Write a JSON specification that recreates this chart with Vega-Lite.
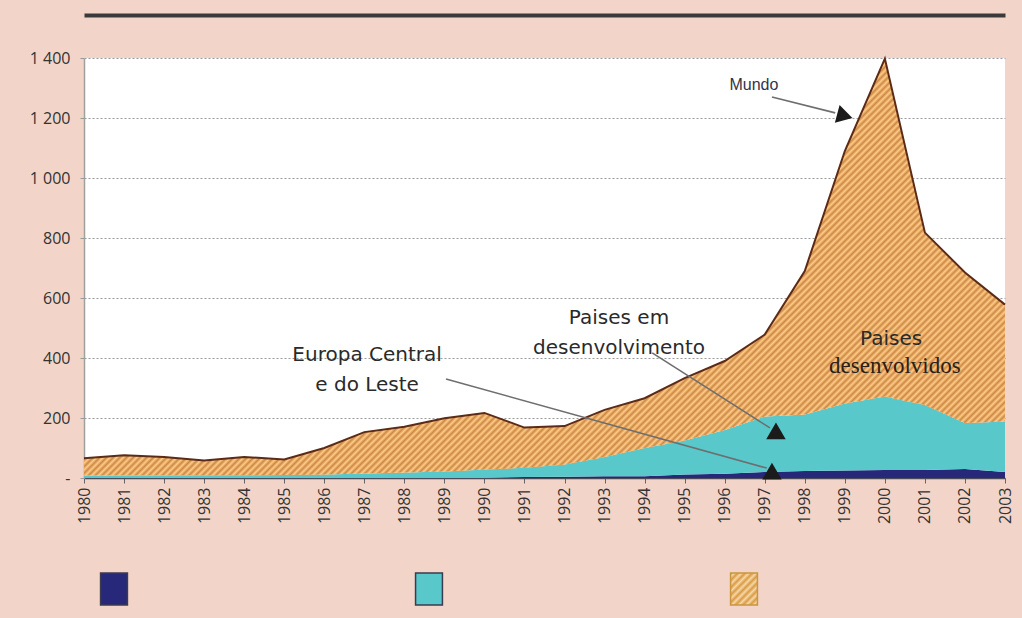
{
"$schema": "https://vega.github.io/schema/vega-lite/v6.json",
"width": 921, "height": 420,
"autosize": {"type": "none"},
"padding": {"left": 84, "top": 58, "right": 17, "bottom": 140},
"background": "#f2d5c8",
"config": {"view": {"fill": "white", "stroke": null}, "font": "Open Sans"},
"datasets": {
"ied": [
{"ano":1980,"regiao":"Europa Central e do Leste","ordem":1,"valor":0.5},{"ano":1980,"regiao":"Paises em desenvolvimento","ordem":2,"valor":7.5},{"ano":1980,"regiao":"Paises desenvolvidos","ordem":3,"valor":58},
{"ano":1981,"regiao":"Europa Central e do Leste","ordem":1,"valor":0.5},{"ano":1981,"regiao":"Paises em desenvolvimento","ordem":2,"valor":8.5},{"ano":1981,"regiao":"Paises desenvolvidos","ordem":3,"valor":67},
{"ano":1982,"regiao":"Europa Central e do Leste","ordem":1,"valor":0.5},{"ano":1982,"regiao":"Paises em desenvolvimento","ordem":2,"valor":8.5},{"ano":1982,"regiao":"Paises desenvolvidos","ordem":3,"valor":61},
{"ano":1983,"regiao":"Europa Central e do Leste","ordem":1,"valor":0.5},{"ano":1983,"regiao":"Paises em desenvolvimento","ordem":2,"valor":8.5},{"ano":1983,"regiao":"Paises desenvolvidos","ordem":3,"valor":49},
{"ano":1984,"regiao":"Europa Central e do Leste","ordem":1,"valor":0.5},{"ano":1984,"regiao":"Paises em desenvolvimento","ordem":2,"valor":8.5},{"ano":1984,"regiao":"Paises desenvolvidos","ordem":3,"valor":61},
{"ano":1985,"regiao":"Europa Central e do Leste","ordem":1,"valor":0.5},{"ano":1985,"regiao":"Paises em desenvolvimento","ordem":2,"valor":9.5},{"ano":1985,"regiao":"Paises desenvolvidos","ordem":3,"valor":52},
{"ano":1986,"regiao":"Europa Central e do Leste","ordem":1,"valor":0.5},{"ano":1986,"regiao":"Paises em desenvolvimento","ordem":2,"valor":11.5},{"ano":1986,"regiao":"Paises desenvolvidos","ordem":3,"valor":88},
{"ano":1987,"regiao":"Europa Central e do Leste","ordem":1,"valor":0.5},{"ano":1987,"regiao":"Paises em desenvolvimento","ordem":2,"valor":14.5},{"ano":1987,"regiao":"Paises desenvolvidos","ordem":3,"valor":138},
{"ano":1988,"regiao":"Europa Central e do Leste","ordem":1,"valor":0.5},{"ano":1988,"regiao":"Paises em desenvolvimento","ordem":2,"valor":17.5},{"ano":1988,"regiao":"Paises desenvolvidos","ordem":3,"valor":153},
{"ano":1989,"regiao":"Europa Central e do Leste","ordem":1,"valor":0.5},{"ano":1989,"regiao":"Paises em desenvolvimento","ordem":2,"valor":21.5},{"ano":1989,"regiao":"Paises desenvolvidos","ordem":3,"valor":177},
{"ano":1990,"regiao":"Europa Central e do Leste","ordem":1,"valor":1},{"ano":1990,"regiao":"Paises em desenvolvimento","ordem":2,"valor":27},{"ano":1990,"regiao":"Paises desenvolvidos","ordem":3,"valor":189},
{"ano":1991,"regiao":"Europa Central e do Leste","ordem":1,"valor":3},{"ano":1991,"regiao":"Paises em desenvolvimento","ordem":2,"valor":31},{"ano":1991,"regiao":"Paises desenvolvidos","ordem":3,"valor":134},
{"ano":1992,"regiao":"Europa Central e do Leste","ordem":1,"valor":4},{"ano":1992,"regiao":"Paises em desenvolvimento","ordem":2,"valor":41},{"ano":1992,"regiao":"Paises desenvolvidos","ordem":3,"valor":128},
{"ano":1993,"regiao":"Europa Central e do Leste","ordem":1,"valor":6},{"ano":1993,"regiao":"Paises em desenvolvimento","ordem":2,"valor":64},{"ano":1993,"regiao":"Paises desenvolvidos","ordem":3,"valor":157},
{"ano":1994,"regiao":"Europa Central e do Leste","ordem":1,"valor":6},{"ano":1994,"regiao":"Paises em desenvolvimento","ordem":2,"valor":94},{"ano":1994,"regiao":"Paises desenvolvidos","ordem":3,"valor":166},
{"ano":1995,"regiao":"Europa Central e do Leste","ordem":1,"valor":12},{"ano":1995,"regiao":"Paises em desenvolvimento","ordem":2,"valor":113},{"ano":1995,"regiao":"Paises desenvolvidos","ordem":3,"valor":208},
{"ano":1996,"regiao":"Europa Central e do Leste","ordem":1,"valor":14},{"ano":1996,"regiao":"Paises em desenvolvimento","ordem":2,"valor":146},{"ano":1996,"regiao":"Paises desenvolvidos","ordem":3,"valor":230},
{"ano":1997,"regiao":"Europa Central e do Leste","ordem":1,"valor":20},{"ano":1997,"regiao":"Paises em desenvolvimento","ordem":2,"valor":185},{"ano":1997,"regiao":"Paises desenvolvidos","ordem":3,"valor":273},
{"ano":1998,"regiao":"Europa Central e do Leste","ordem":1,"valor":23},{"ano":1998,"regiao":"Paises em desenvolvimento","ordem":2,"valor":189},{"ano":1998,"regiao":"Paises desenvolvidos","ordem":3,"valor":478},
{"ano":1999,"regiao":"Europa Central e do Leste","ordem":1,"valor":25},{"ano":1999,"regiao":"Paises em desenvolvimento","ordem":2,"valor":223},{"ano":1999,"regiao":"Paises desenvolvidos","ordem":3,"valor":842},
{"ano":2000,"regiao":"Europa Central e do Leste","ordem":1,"valor":27},{"ano":2000,"regiao":"Paises em desenvolvimento","ordem":2,"valor":245},{"ano":2000,"regiao":"Paises desenvolvidos","ordem":3,"valor":1126},
{"ano":2001,"regiao":"Europa Central e do Leste","ordem":1,"valor":27},{"ano":2001,"regiao":"Paises em desenvolvimento","ordem":2,"valor":216},{"ano":2001,"regiao":"Paises desenvolvidos","ordem":3,"valor":575},
{"ano":2002,"regiao":"Europa Central e do Leste","ordem":1,"valor":30},{"ano":2002,"regiao":"Paises em desenvolvimento","ordem":2,"valor":153},{"ano":2002,"regiao":"Paises desenvolvidos","ordem":3,"valor":502},
{"ano":2003,"regiao":"Europa Central e do Leste","ordem":1,"valor":20},{"ano":2003,"regiao":"Paises em desenvolvimento","ordem":2,"valor":168},{"ano":2003,"regiao":"Paises desenvolvidos","ordem":3,"valor":390}
],
"setas": [
{"xa":1997.18,"ya":1270,"xb":1998.76,"yb":1217},
{"xa":1989.04,"ya":330,"xb":1997.05,"yb":33},
{"xa":1994.19,"ya":417,"xb":1997.13,"yb":167}
],
"pontas": [
{"ano":1997.18,"valor":23},
{"ano":1997.28,"valor":157}
],
"pontaMundo": [
{"ano":1999.0,"valor":1207}
],
"rotuloMundo": [
{"ano":1996.73,"valor":1310,"texto":"Mundo"}
],
"rotulos": [
{"ano":1987.07,"valor":410,"texto":"Europa Central\ne do Leste"},
{"ano":1993.36,"valor":533,"texto":"Paises em\ndesenvolvimento"},
{"ano":2000.155,"valor":463,"texto":"Paises"}
],
"rotuloSerif": [
{"ano":2000.25,"valor":373,"texto":"desenvolvidos"}
]
},
"resolve": {"axis": {"x": "independent", "y": "independent"}},
"layer": [
{
"data": {"name": "ied"},
"transform": [{"stack": "valor", "groupby": ["ano"], "sort": [{"field": "ordem", "order": "ascending"}], "as": ["v0", "v1"]}],
"mark": {"type": "area", "opacity": 1},
"encoding": {
"x": {"field": "ano", "type": "quantitative", "scale": {"domain": [1980, 2003], "nice": false, "zero": false},
"axis": {"values": [1980,1981,1982,1983,1984,1985,1986,1987,1988,1989,1990,1991,1992,1993,1994,1995,1996,1997,1998,1999,2000,2001,2002,2003], "format": "d", "labelAngle": 270, "labelAlign": "right", "labelBaseline": "middle", "labelFontSize": 16, "labelColor": "#333333", "labelPadding": 4, "tickSize": 5, "tickColor": "#666666", "domainColor": "#4a4a5a", "domainWidth": 1.5, "grid": false, "title": null, "labelOverlap": false}},
"y": {"field": "v1", "type": "quantitative", "stack": null, "scale": {"domain": [0, 1400], "nice": false},
"axis": {"values": [0,200,400,600,800,1000,1200,1400], "labelExpr": "datum.value == 0 ? '-' : replace(format(datum.value, ','), ',', ' ')", "labelFontSize": 16, "labelColor": "#333333", "labelPadding": 10, "tickSize": 4, "tickColor": "#999999", "domainColor": "#a0a0a0", "domainWidth": 1.5, "grid": true, "gridColor": "#9a9a9a", "gridDash": [2, 2], "gridWidth": 1, "title": null}},
"y2": {"field": "v0"},
"color": {"field": "regiao", "type": "nominal",
"scale": {"domain": ["Europa Central e do Leste", "Paises em desenvolvimento", "Paises desenvolvidos"], "range": ["#27287a", "#58c8cb", {"expr": "{gradient: 'linear', x1: 0, y1: 0, x2: 0.909, y2: 1.077, stops: [{offset: 0, color: '#d99a44'}, {offset: 0.0625, color: '#f7d8a8'}, {offset: 0.125, color: '#d99a44'}, {offset: 0.1875, color: '#f7d8a8'}, {offset: 0.25, color: '#d99a44'}, {offset: 0.3125, color: '#f7d8a8'}, {offset: 0.375, color: '#d99a44'}, {offset: 0.4375, color: '#f7d8a8'}, {offset: 0.5, color: '#d99a44'}, {offset: 0.5625, color: '#f7d8a8'}, {offset: 0.625, color: '#d99a44'}, {offset: 0.6875, color: '#f7d8a8'}, {offset: 0.75, color: '#d99a44'}, {offset: 0.8125, color: '#f7d8a8'}, {offset: 0.875, color: '#d99a44'}, {offset: 0.9375, color: '#f7d8a8'}, {offset: 1, color: '#d99a44'}]}"}]},
"legend": {"orient": "none", "legendX": 13, "legendY": 514, "direction": "horizontal", "title": null, "symbolType": "M-0.84,-1H0.84V1H-0.84Z", "symbolSize": 1024, "symbolStrokeWidth": 1.5, "symbolOpacity": 1, "labelExpr": "''", "labelOffset": 0, "columnPadding": 281, "padding": 0,
"encode": {"symbols": {"update": {
"stroke": {"signal": "datum.value === 'Paises desenvolvidos' ? '#c9963e' : '#3b3b4f'"},
"strokeWidth": {"value": 1.5},
"opacity": {"value": 1}
}}}}
}
}
},
{
"data": {"name": "ied"},
"transform": [{"stack": "valor", "groupby": ["ano"], "sort": [{"field": "ordem", "order": "ascending"}], "as": ["v0", "v1"]}, {"filter": "datum.regiao === 'Paises desenvolvidos'"}],
"mark": {"type": "area", "opacity": 1, "fill": {"gradient": "linear", "x1": 0, "y1": 0, "x2": 1.2056, "y2": 0.5459, "stops": [
{"offset":0.00,"color":"#c84"},{"offset":0.0025,"color":"#fc8"},{"offset":0.005,"color":"#c84"},{"offset":0.0075,"color":"#fc8"},
{"offset":0.01,"color":"#c84"},{"offset":0.0125,"color":"#fc8"},{"offset":0.015,"color":"#c84"},{"offset":0.0175,"color":"#fc8"},
{"offset":0.02,"color":"#c84"},{"offset":0.0225,"color":"#fc8"},{"offset":0.025,"color":"#c84"},{"offset":0.0275,"color":"#fc8"},
{"offset":0.03,"color":"#c84"},{"offset":0.0325,"color":"#fc8"},{"offset":0.035,"color":"#c84"},{"offset":0.0375,"color":"#fc8"},
{"offset":0.04,"color":"#c84"},{"offset":0.0425,"color":"#fc8"},{"offset":0.045,"color":"#c84"},{"offset":0.0475,"color":"#fc8"},
{"offset":0.05,"color":"#c84"},{"offset":0.0525,"color":"#fc8"},{"offset":0.055,"color":"#c84"},{"offset":0.0575,"color":"#fc8"},
{"offset":0.06,"color":"#c84"},{"offset":0.0625,"color":"#fc8"},{"offset":0.065,"color":"#c84"},{"offset":0.0675,"color":"#fc8"},
{"offset":0.07,"color":"#c84"},{"offset":0.0725,"color":"#fc8"},{"offset":0.075,"color":"#c84"},{"offset":0.0775,"color":"#fc8"},
{"offset":0.08,"color":"#c84"},{"offset":0.0825,"color":"#fc8"},{"offset":0.085,"color":"#c84"},{"offset":0.0875,"color":"#fc8"},
{"offset":0.09,"color":"#c84"},{"offset":0.0925,"color":"#fc8"},{"offset":0.095,"color":"#c84"},{"offset":0.0975,"color":"#fc8"},
{"offset":0.10,"color":"#c84"},{"offset":0.1025,"color":"#fc8"},{"offset":0.105,"color":"#c84"},{"offset":0.1075,"color":"#fc8"},
{"offset":0.11,"color":"#c84"},{"offset":0.1125,"color":"#fc8"},{"offset":0.115,"color":"#c84"},{"offset":0.1175,"color":"#fc8"},
{"offset":0.12,"color":"#c84"},{"offset":0.1225,"color":"#fc8"},{"offset":0.125,"color":"#c84"},{"offset":0.1275,"color":"#fc8"},
{"offset":0.13,"color":"#c84"},{"offset":0.1325,"color":"#fc8"},{"offset":0.135,"color":"#c84"},{"offset":0.1375,"color":"#fc8"},
{"offset":0.14,"color":"#c84"},{"offset":0.1425,"color":"#fc8"},{"offset":0.145,"color":"#c84"},{"offset":0.1475,"color":"#fc8"},
{"offset":0.15,"color":"#c84"},{"offset":0.1525,"color":"#fc8"},{"offset":0.155,"color":"#c84"},{"offset":0.1575,"color":"#fc8"},
{"offset":0.16,"color":"#c84"},{"offset":0.1625,"color":"#fc8"},{"offset":0.165,"color":"#c84"},{"offset":0.1675,"color":"#fc8"},
{"offset":0.17,"color":"#c84"},{"offset":0.1725,"color":"#fc8"},{"offset":0.175,"color":"#c84"},{"offset":0.1775,"color":"#fc8"},
{"offset":0.18,"color":"#c84"},{"offset":0.1825,"color":"#fc8"},{"offset":0.185,"color":"#c84"},{"offset":0.1875,"color":"#fc8"},
{"offset":0.19,"color":"#c84"},{"offset":0.1925,"color":"#fc8"},{"offset":0.195,"color":"#c84"},{"offset":0.1975,"color":"#fc8"},
{"offset":0.20,"color":"#c84"},{"offset":0.2025,"color":"#fc8"},{"offset":0.205,"color":"#c84"},{"offset":0.2075,"color":"#fc8"},
{"offset":0.21,"color":"#c84"},{"offset":0.2125,"color":"#fc8"},{"offset":0.215,"color":"#c84"},{"offset":0.2175,"color":"#fc8"},
{"offset":0.22,"color":"#c84"},{"offset":0.2225,"color":"#fc8"},{"offset":0.225,"color":"#c84"},{"offset":0.2275,"color":"#fc8"},
{"offset":0.23,"color":"#c84"},{"offset":0.2325,"color":"#fc8"},{"offset":0.235,"color":"#c84"},{"offset":0.2375,"color":"#fc8"},
{"offset":0.24,"color":"#c84"},{"offset":0.2425,"color":"#fc8"},{"offset":0.245,"color":"#c84"},{"offset":0.2475,"color":"#fc8"},
{"offset":0.25,"color":"#c84"},{"offset":0.2525,"color":"#fc8"},{"offset":0.255,"color":"#c84"},{"offset":0.2575,"color":"#fc8"},
{"offset":0.26,"color":"#c84"},{"offset":0.2625,"color":"#fc8"},{"offset":0.265,"color":"#c84"},{"offset":0.2675,"color":"#fc8"},
{"offset":0.27,"color":"#c84"},{"offset":0.2725,"color":"#fc8"},{"offset":0.275,"color":"#c84"},{"offset":0.2775,"color":"#fc8"},
{"offset":0.28,"color":"#c84"},{"offset":0.2825,"color":"#fc8"},{"offset":0.285,"color":"#c84"},{"offset":0.2875,"color":"#fc8"},
{"offset":0.29,"color":"#c84"},{"offset":0.2925,"color":"#fc8"},{"offset":0.295,"color":"#c84"},{"offset":0.2975,"color":"#fc8"},
{"offset":0.30,"color":"#c84"},{"offset":0.3025,"color":"#fc8"},{"offset":0.305,"color":"#c84"},{"offset":0.3075,"color":"#fc8"},
{"offset":0.31,"color":"#c84"},{"offset":0.3125,"color":"#fc8"},{"offset":0.315,"color":"#c84"},{"offset":0.3175,"color":"#fc8"},
{"offset":0.32,"color":"#c84"},{"offset":0.3225,"color":"#fc8"},{"offset":0.325,"color":"#c84"},{"offset":0.3275,"color":"#fc8"},
{"offset":0.33,"color":"#c84"},{"offset":0.3325,"color":"#fc8"},{"offset":0.335,"color":"#c84"},{"offset":0.3375,"color":"#fc8"},
{"offset":0.34,"color":"#c84"},{"offset":0.3425,"color":"#fc8"},{"offset":0.345,"color":"#c84"},{"offset":0.3475,"color":"#fc8"},
{"offset":0.35,"color":"#c84"},{"offset":0.3525,"color":"#fc8"},{"offset":0.355,"color":"#c84"},{"offset":0.3575,"color":"#fc8"},
{"offset":0.36,"color":"#c84"},{"offset":0.3625,"color":"#fc8"},{"offset":0.365,"color":"#c84"},{"offset":0.3675,"color":"#fc8"},
{"offset":0.37,"color":"#c84"},{"offset":0.3725,"color":"#fc8"},{"offset":0.375,"color":"#c84"},{"offset":0.3775,"color":"#fc8"},
{"offset":0.38,"color":"#c84"},{"offset":0.3825,"color":"#fc8"},{"offset":0.385,"color":"#c84"},{"offset":0.3875,"color":"#fc8"},
{"offset":0.39,"color":"#c84"},{"offset":0.3925,"color":"#fc8"},{"offset":0.395,"color":"#c84"},{"offset":0.3975,"color":"#fc8"},
{"offset":0.40,"color":"#c84"},{"offset":0.4025,"color":"#fc8"},{"offset":0.405,"color":"#c84"},{"offset":0.4075,"color":"#fc8"},
{"offset":0.41,"color":"#c84"},{"offset":0.4125,"color":"#fc8"},{"offset":0.415,"color":"#c84"},{"offset":0.4175,"color":"#fc8"},
{"offset":0.42,"color":"#c84"},{"offset":0.4225,"color":"#fc8"},{"offset":0.425,"color":"#c84"},{"offset":0.4275,"color":"#fc8"},
{"offset":0.43,"color":"#c84"},{"offset":0.4325,"color":"#fc8"},{"offset":0.435,"color":"#c84"},{"offset":0.4375,"color":"#fc8"},
{"offset":0.44,"color":"#c84"},{"offset":0.4425,"color":"#fc8"},{"offset":0.445,"color":"#c84"},{"offset":0.4475,"color":"#fc8"},
{"offset":0.45,"color":"#c84"},{"offset":0.4525,"color":"#fc8"},{"offset":0.455,"color":"#c84"},{"offset":0.4575,"color":"#fc8"},
{"offset":0.46,"color":"#c84"},{"offset":0.4625,"color":"#fc8"},{"offset":0.465,"color":"#c84"},{"offset":0.4675,"color":"#fc8"},
{"offset":0.47,"color":"#c84"},{"offset":0.4725,"color":"#fc8"},{"offset":0.475,"color":"#c84"},{"offset":0.4775,"color":"#fc8"},
{"offset":0.48,"color":"#c84"},{"offset":0.4825,"color":"#fc8"},{"offset":0.485,"color":"#c84"},{"offset":0.4875,"color":"#fc8"},
{"offset":0.49,"color":"#c84"},{"offset":0.4925,"color":"#fc8"},{"offset":0.495,"color":"#c84"},{"offset":0.4975,"color":"#fc8"},
{"offset":0.50,"color":"#c84"},{"offset":0.5025,"color":"#fc8"},{"offset":0.505,"color":"#c84"},{"offset":0.5075,"color":"#fc8"},
{"offset":0.51,"color":"#c84"},{"offset":0.5125,"color":"#fc8"},{"offset":0.515,"color":"#c84"},{"offset":0.5175,"color":"#fc8"},
{"offset":0.52,"color":"#c84"},{"offset":0.5225,"color":"#fc8"},{"offset":0.525,"color":"#c84"},{"offset":0.5275,"color":"#fc8"},
{"offset":0.53,"color":"#c84"},{"offset":0.5325,"color":"#fc8"},{"offset":0.535,"color":"#c84"},{"offset":0.5375,"color":"#fc8"},
{"offset":0.54,"color":"#c84"},{"offset":0.5425,"color":"#fc8"},{"offset":0.545,"color":"#c84"},{"offset":0.5475,"color":"#fc8"},
{"offset":0.55,"color":"#c84"},{"offset":0.5525,"color":"#fc8"},{"offset":0.555,"color":"#c84"},{"offset":0.5575,"color":"#fc8"},
{"offset":0.56,"color":"#c84"},{"offset":0.5625,"color":"#fc8"},{"offset":0.565,"color":"#c84"},{"offset":0.5675,"color":"#fc8"},
{"offset":0.57,"color":"#c84"},{"offset":0.5725,"color":"#fc8"},{"offset":0.575,"color":"#c84"},{"offset":0.5775,"color":"#fc8"},
{"offset":0.58,"color":"#c84"},{"offset":0.5825,"color":"#fc8"},{"offset":0.585,"color":"#c84"},{"offset":0.5875,"color":"#fc8"},
{"offset":0.59,"color":"#c84"},{"offset":0.5925,"color":"#fc8"},{"offset":0.595,"color":"#c84"},{"offset":0.5975,"color":"#fc8"},
{"offset":0.60,"color":"#c84"},{"offset":0.6025,"color":"#fc8"},{"offset":0.605,"color":"#c84"},{"offset":0.6075,"color":"#fc8"},
{"offset":0.61,"color":"#c84"},{"offset":0.6125,"color":"#fc8"},{"offset":0.615,"color":"#c84"},{"offset":0.6175,"color":"#fc8"},
{"offset":0.62,"color":"#c84"},{"offset":0.6225,"color":"#fc8"},{"offset":0.625,"color":"#c84"},{"offset":0.6275,"color":"#fc8"},
{"offset":0.63,"color":"#c84"},{"offset":0.6325,"color":"#fc8"},{"offset":0.635,"color":"#c84"},{"offset":0.6375,"color":"#fc8"},
{"offset":0.64,"color":"#c84"},{"offset":0.6425,"color":"#fc8"},{"offset":0.645,"color":"#c84"},{"offset":0.6475,"color":"#fc8"},
{"offset":0.65,"color":"#c84"},{"offset":0.6525,"color":"#fc8"},{"offset":0.655,"color":"#c84"},{"offset":0.6575,"color":"#fc8"},
{"offset":0.66,"color":"#c84"},{"offset":0.6625,"color":"#fc8"},{"offset":0.665,"color":"#c84"},{"offset":0.6675,"color":"#fc8"},
{"offset":0.67,"color":"#c84"},{"offset":0.6725,"color":"#fc8"},{"offset":0.675,"color":"#c84"},{"offset":0.6775,"color":"#fc8"},
{"offset":0.68,"color":"#c84"},{"offset":0.6825,"color":"#fc8"},{"offset":0.685,"color":"#c84"},{"offset":0.6875,"color":"#fc8"},
{"offset":0.69,"color":"#c84"},{"offset":0.6925,"color":"#fc8"},{"offset":0.695,"color":"#c84"},{"offset":0.6975,"color":"#fc8"},
{"offset":0.70,"color":"#c84"},{"offset":0.7025,"color":"#fc8"},{"offset":0.705,"color":"#c84"},{"offset":0.7075,"color":"#fc8"},
{"offset":0.71,"color":"#c84"},{"offset":0.7125,"color":"#fc8"},{"offset":0.715,"color":"#c84"},{"offset":0.7175,"color":"#fc8"},
{"offset":0.72,"color":"#c84"},{"offset":0.7225,"color":"#fc8"},{"offset":0.725,"color":"#c84"},{"offset":0.7275,"color":"#fc8"},
{"offset":0.73,"color":"#c84"},{"offset":0.7325,"color":"#fc8"},{"offset":0.735,"color":"#c84"},{"offset":0.7375,"color":"#fc8"},
{"offset":0.74,"color":"#c84"},{"offset":0.7425,"color":"#fc8"},{"offset":0.745,"color":"#c84"},{"offset":0.7475,"color":"#fc8"},
{"offset":0.75,"color":"#c84"},{"offset":0.7525,"color":"#fc8"},{"offset":0.755,"color":"#c84"},{"offset":0.7575,"color":"#fc8"},
{"offset":0.76,"color":"#c84"},{"offset":0.7625,"color":"#fc8"},{"offset":0.765,"color":"#c84"},{"offset":0.7675,"color":"#fc8"},
{"offset":0.77,"color":"#c84"},{"offset":0.7725,"color":"#fc8"},{"offset":0.775,"color":"#c84"},{"offset":0.7775,"color":"#fc8"},
{"offset":0.78,"color":"#c84"},{"offset":0.7825,"color":"#fc8"},{"offset":0.785,"color":"#c84"},{"offset":0.7875,"color":"#fc8"},
{"offset":0.79,"color":"#c84"},{"offset":0.7925,"color":"#fc8"},{"offset":0.795,"color":"#c84"},{"offset":0.7975,"color":"#fc8"},
{"offset":0.80,"color":"#c84"},{"offset":0.8025,"color":"#fc8"},{"offset":0.805,"color":"#c84"},{"offset":0.8075,"color":"#fc8"},
{"offset":0.81,"color":"#c84"},{"offset":0.8125,"color":"#fc8"},{"offset":0.815,"color":"#c84"},{"offset":0.8175,"color":"#fc8"},
{"offset":0.82,"color":"#c84"},{"offset":0.8225,"color":"#fc8"},{"offset":0.825,"color":"#c84"},{"offset":0.8275,"color":"#fc8"},
{"offset":0.83,"color":"#c84"},{"offset":0.8325,"color":"#fc8"},{"offset":0.835,"color":"#c84"},{"offset":0.8375,"color":"#fc8"},
{"offset":0.84,"color":"#c84"},{"offset":0.8425,"color":"#fc8"},{"offset":0.845,"color":"#c84"},{"offset":0.8475,"color":"#fc8"},
{"offset":0.85,"color":"#c84"},{"offset":0.8525,"color":"#fc8"},{"offset":0.855,"color":"#c84"},{"offset":0.8575,"color":"#fc8"},
{"offset":0.86,"color":"#c84"},{"offset":0.8625,"color":"#fc8"},{"offset":0.865,"color":"#c84"},{"offset":0.8675,"color":"#fc8"},
{"offset":0.87,"color":"#c84"},{"offset":0.8725,"color":"#fc8"},{"offset":0.875,"color":"#c84"},{"offset":0.8775,"color":"#fc8"},
{"offset":0.88,"color":"#c84"},{"offset":0.8825,"color":"#fc8"},{"offset":0.885,"color":"#c84"},{"offset":0.8875,"color":"#fc8"},
{"offset":0.89,"color":"#c84"},{"offset":0.8925,"color":"#fc8"},{"offset":0.895,"color":"#c84"},{"offset":0.8975,"color":"#fc8"},
{"offset":0.90,"color":"#c84"},{"offset":0.9025,"color":"#fc8"},{"offset":0.905,"color":"#c84"},{"offset":0.9075,"color":"#fc8"},
{"offset":0.91,"color":"#c84"},{"offset":0.9125,"color":"#fc8"},{"offset":0.915,"color":"#c84"},{"offset":0.9175,"color":"#fc8"},
{"offset":0.92,"color":"#c84"},{"offset":0.9225,"color":"#fc8"},{"offset":0.925,"color":"#c84"},{"offset":0.9275,"color":"#fc8"},
{"offset":0.93,"color":"#c84"},{"offset":0.9325,"color":"#fc8"},{"offset":0.935,"color":"#c84"},{"offset":0.9375,"color":"#fc8"},
{"offset":0.94,"color":"#c84"},{"offset":0.9425,"color":"#fc8"},{"offset":0.945,"color":"#c84"},{"offset":0.9475,"color":"#fc8"},
{"offset":0.95,"color":"#c84"},{"offset":0.9525,"color":"#fc8"},{"offset":0.955,"color":"#c84"},{"offset":0.9575,"color":"#fc8"},
{"offset":0.96,"color":"#c84"},{"offset":0.9625,"color":"#fc8"},{"offset":0.965,"color":"#c84"},{"offset":0.9675,"color":"#fc8"},
{"offset":0.97,"color":"#c84"},{"offset":0.9725,"color":"#fc8"},{"offset":0.975,"color":"#c84"},{"offset":0.9775,"color":"#fc8"},
{"offset":0.98,"color":"#c84"},{"offset":0.9825,"color":"#fc8"},{"offset":0.985,"color":"#c84"},{"offset":0.9875,"color":"#fc8"},
{"offset":0.99,"color":"#c84"},{"offset":0.9925,"color":"#fc8"},{"offset":0.995,"color":"#c84"},{"offset":0.9975,"color":"#fc8"},
{"offset":1,"color":"#c84"}
]}},
"encoding": {
"x": {"field": "ano", "type": "quantitative", "scale": {"domain": [1980, 2003], "nice": false, "zero": false}, "axis": null},
"y": {"field": "v1", "type": "quantitative", "stack": null, "scale": {"domain": [0, 1400], "nice": false}, "axis": null},
"y2": {"field": "v0"}
}
},
{
"data": {"name": "ied"},
"transform": [{"stack": "valor", "groupby": ["ano"], "sort": [{"field": "ordem", "order": "ascending"}], "as": ["v0", "v1"]}, {"filter": "datum.regiao === 'Paises desenvolvidos'"}],
"mark": {"type": "line", "stroke": "#5b2b17", "strokeWidth": 2},
"encoding": {
"x": {"field": "ano", "type": "quantitative", "scale": {"domain": [1980, 2003], "nice": false, "zero": false}, "axis": null},
"y": {"field": "v1", "type": "quantitative", "stack": null, "scale": {"domain": [0, 1400], "nice": false}, "axis": null}
}
},
{
"data": {"name": "setas"},
"mark": {"type": "rule", "stroke": "#6e6e6e", "strokeWidth": 1.6},
"encoding": {
"x": {"field": "xa", "type": "quantitative", "scale": {"domain": [1980, 2003], "nice": false, "zero": false}, "axis": null},
"x2": {"field": "xb"},
"y": {"field": "ya", "type": "quantitative", "scale": {"domain": [0, 1400], "nice": false}, "axis": null},
"y2": {"field": "yb"}
}
},
{
"data": {"name": "pontas"},
"mark": {"type": "point", "shape": "triangle-up", "filled": true, "size": 380, "color": "#1b1b1b", "opacity": 1},
"encoding": {
"x": {"field": "ano", "type": "quantitative", "scale": {"domain": [1980, 2003], "nice": false, "zero": false}, "axis": null},
"y": {"field": "valor", "type": "quantitative", "scale": {"domain": [0, 1400], "nice": false}, "axis": null}
}
},
{
"data": {"name": "pontaMundo"},
"mark": {"type": "point", "shape": "triangle-right", "angle": 15, "filled": true, "size": 330, "color": "#1b1b1b", "opacity": 1},
"encoding": {
"x": {"field": "ano", "type": "quantitative", "scale": {"domain": [1980, 2003], "nice": false, "zero": false}, "axis": null},
"y": {"field": "valor", "type": "quantitative", "scale": {"domain": [0, 1400], "nice": false}, "axis": null}
}
},
{
"data": {"name": "rotuloMundo"},
"mark": {"type": "text", "font": "Liberation Sans", "fontSize": 16, "color": "#33334a", "align": "center", "baseline": "middle"},
"encoding": {
"x": {"field": "ano", "type": "quantitative", "scale": {"domain": [1980, 2003], "nice": false, "zero": false},
"axis": {"orient": "top", "offset": 43, "domain": true, "domainColor": "#3a3a3a", "domainWidth": 4, "ticks": false, "labels": false, "grid": false, "title": null}},
"y": {"field": "valor", "type": "quantitative", "scale": {"domain": [0, 1400], "nice": false}, "axis": null},
"text": {"field": "texto", "type": "nominal"}
}
},
{
"data": {"name": "rotulos"},
"mark": {"type": "text", "font": "DejaVu Sans", "fontSize": 20, "color": "#2a2a2a", "align": "center", "baseline": "middle", "lineBreak": "\n", "lineHeight": 30},
"encoding": {
"x": {"field": "ano", "type": "quantitative", "scale": {"domain": [1980, 2003], "nice": false, "zero": false}, "axis": null},
"y": {"field": "valor", "type": "quantitative", "scale": {"domain": [0, 1400], "nice": false}, "axis": null},
"text": {"field": "texto", "type": "nominal"}
}
},
{
"data": {"name": "rotuloSerif"},
"mark": {"type": "text", "font": "Liberation Serif", "fontSize": 23, "color": "#2a2018", "align": "center", "baseline": "middle"},
"encoding": {
"x": {"field": "ano", "type": "quantitative", "scale": {"domain": [1980, 2003], "nice": false, "zero": false}, "axis": null},
"y": {"field": "valor", "type": "quantitative", "scale": {"domain": [0, 1400], "nice": false}, "axis": null},
"text": {"field": "texto", "type": "nominal"}
}
}
]
}
